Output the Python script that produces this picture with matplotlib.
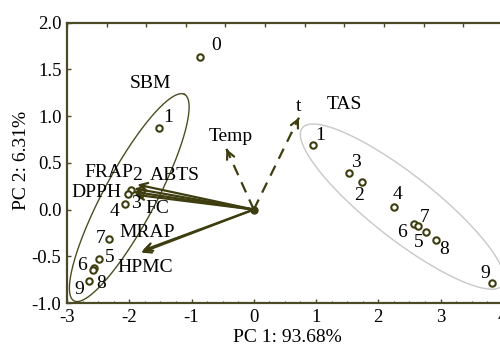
import numpy as np
import matplotlib
matplotlib.use("Agg")
import matplotlib.pyplot as plt

plt.rcParams['font.family'] = ['Liberation Serif', 'DejaVu Serif']

# ---------------- data ----------------
p0_xy = (-0.871, 1.629)
point_labels = ['1', '2', '3', '4', '5', '6', '7', '8', '9']
sbm_x = [-1.52, -1.97, -2.02, -2.07, -2.48, -2.563, -2.33, -2.579, -2.64]
sbm_y = [0.87, 0.21, 0.17, 0.06, -0.53, -0.628, -0.31, -0.652, -0.76]
tas_x = [0.946, 1.737, 1.537, 2.247, 2.769, 2.58, 2.634, 2.935, 3.823]
tas_y = [0.69, 0.29, 0.39, 0.025, -0.243, -0.153, -0.18, -0.33, -0.788]

solid_vars = ['ABTS', 'FRAP', 'DPPH', 'FC', 'MRAP', 'HPMC']
solid_x = [-1.87, -1.92, -1.935, -1.92, -1.79, -1.81]
solid_y = [0.267, 0.225, 0.19, 0.16, -0.44, -0.46]
dashed_vars = ['Temp', 't']
dashed_x = [-0.44, 0.726]
dashed_y = [0.65, 0.984]

xticks = [-3, -2, -1, 0, 1, 2, 3, 4]
yticks = [-1.0, -0.5, 0.0, 0.5, 1.0, 1.5, 2.0]
xlabel = 'PC 1: 93.68%'
ylabel = 'PC 2: 6.31%'

# ---------------- layout ----------------
sbm_off = [(9, 11), (6, 14), (8, -10), (-10, -8), (10, 2), (-12, 3), (-8, 0), (8, -13), (-10, -9)]
tas_off = [(7, 10), (-3, -13), (6, 11), (4, 13), (-7, -10), (-12, -9), (7, 9), (8, -9), (-7, 10)]
p0_off = (17, 12)
var_text_pos = {'FRAP': (-2.331, 0.393), 'ABTS': (-1.266, 0.364), 'DPPH': (-2.524, 0.182),
                'FC': (-1.556, 0.011), 'MRAP': (-1.718, -0.246), 'HPMC': (-1.75, -0.62),
                'Temp': (-0.376, 0.781), 't': (0.726, 1.10)}
group_text = {'SBM': (-1.653, 1.348), 'TAS': (1.46, 1.123)}
# ellipses: center, major half-vector, minor half-vector (data units)
sbm_ell = ((-2.0, 0.128), (0.887, 1.105), (0.371, -0.130))
tas_ell = ((2.387, 0.032), (1.608, -0.842), (0.320, 0.269))

OLIVE = '#3d3d10'
SPINE = '#4a4a26'
FS = 14

fig = plt.figure(figsize=(5.0, 3.47), dpi=100)
ax = fig.add_axes([0.134, 0.1268, 1.0056 - 0.134, 0.9346 - 0.1268])
ax.set_xlim(-3, 4)
ax.set_ylim(-1, 2)

# ellipses
t = np.linspace(0, 2 * np.pi, 400)
for (c, u, v), col in [(sbm_ell, '#4d4d22'), (tas_ell, '#c8c8c8')]:
    ex = c[0] + u[0] * np.cos(t) + v[0] * np.sin(t)
    ey = c[1] + u[1] * np.cos(t) + v[1] * np.sin(t)
    ax.plot(ex, ey, color=col, lw=1.0, zorder=1)

# solid arrows
for vx, vy in zip(solid_x, solid_y):
    ax.annotate('', xy=(vx, vy), xytext=(0, 0),
                arrowprops=dict(arrowstyle='->', lw=1.6, color=OLIVE,
                                mutation_scale=14, shrinkA=0, shrinkB=0), zorder=3)
# dashed arrows
for vx, vy in zip(dashed_x, dashed_y):
    ax.plot([0, vx], [0, vy], color=OLIVE, lw=1.6, dashes=(5, 3.5), zorder=3)
    ax.annotate('', xy=(vx, vy), xytext=(vx * 0.97, vy * 0.97),
                arrowprops=dict(arrowstyle='->', lw=1.6, color=OLIVE,
                                mutation_scale=14, shrinkA=0, shrinkB=0), zorder=3)
ax.plot([0], [0], 'o', color=OLIVE, ms=5, zorder=4)

# points
ax.plot(sbm_x, sbm_y, 'o', ms=4.6, mfc='white', mec=OLIVE, mew=1.5, zorder=5, ls='none')
ax.plot(tas_x, tas_y, 'o', ms=4.6, mfc='white', mec=OLIVE, mew=1.5, zorder=5, ls='none')
ax.plot([p0_xy[0]], [p0_xy[1]], 'o', ms=4.6, mfc='white', mec=OLIVE, mew=1.5, zorder=5)

for lab, x, y, off in zip(point_labels, sbm_x, sbm_y, sbm_off):
    ax.annotate(lab, (x, y), xytext=off, textcoords='offset pixels',
                ha='center', va='center', fontsize=FS, zorder=6)
for lab, x, y, off in zip(point_labels, tas_x, tas_y, tas_off):
    ax.annotate(lab, (x, y), xytext=off, textcoords='offset pixels',
                ha='center', va='center', fontsize=FS, zorder=6)
ax.annotate('0', p0_xy, xytext=p0_off, textcoords='offset pixels',
            ha='center', va='center', fontsize=FS)

for name, (tx, ty) in var_text_pos.items():
    ax.text(tx, ty, name, ha='center', va='center', fontsize=FS, zorder=6)
for name, (tx, ty) in group_text.items():
    ax.text(tx, ty, name, ha='center', va='center', fontsize=FS, zorder=6)

# axes styling
for s in ax.spines.values():
    s.set_color(SPINE)
    s.set_linewidth(1.6)
ax.set_xticks(xticks)
ax.set_xticklabels([str(v) for v in xticks])
ax.set_yticks(yticks)
ax.set_yticklabels(['%.1f' % v for v in yticks])
ax.set_xticks(np.arange(-3, 4.01, 0.25), minor=True)
ax.tick_params(axis='both', which='major', direction='in', length=3, width=1,
               color=SPINE, labelsize=13.5, pad=4)
ax.tick_params(axis='x', which='minor', direction='in', length=1.5, width=0.8, color=SPINE)
ax.tick_params(axis='y', which='both', right=False)

ax2 = ax.twiny()
ax2.set_xlim(ax.get_xlim())
ax2.set_xticks(np.arange(-3, 4.01, 7 / 11))
ax2.tick_params(axis='x', direction='in', length=3, width=1, color=SPINE,
                labeltop=False, top=True)
for s in ax2.spines.values():
    s.set_visible(False)

fig.text(287 / 500, 1 - 337 / 347, xlabel, ha='center', va='center', fontsize=FS)
fig.text(22 / 500, 1 - 160 / 347, ylabel, ha='center', va='center', fontsize=FS, rotation=90)

fig.savefig('out.png', dpi=100)
